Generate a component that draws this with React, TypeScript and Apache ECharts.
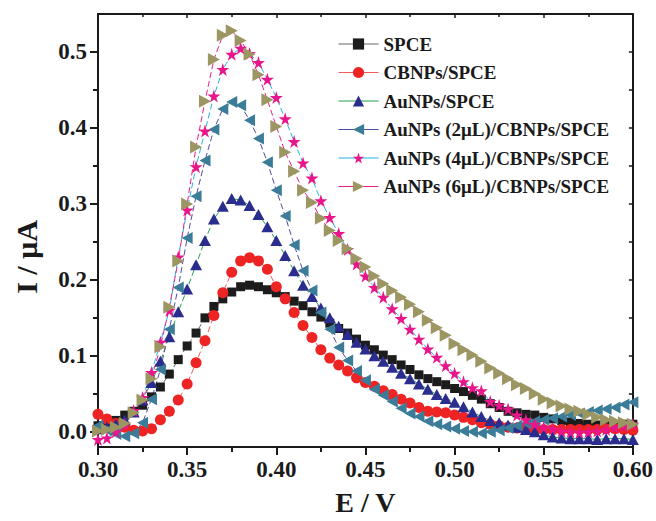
import React, { useEffect, useRef } from "react";
import * as echarts from "echarts";

const E = [
  0.300, 0.305, 0.310, 0.315, 0.320, 0.325, 0.330, 0.335, 0.340, 0.345,
  0.350, 0.355, 0.360, 0.365, 0.370, 0.375, 0.380, 0.385, 0.390, 0.395,
  0.400, 0.405, 0.410, 0.415, 0.420, 0.425, 0.430, 0.435, 0.440, 0.445,
  0.450, 0.455, 0.460, 0.465, 0.470, 0.475, 0.480, 0.485, 0.490, 0.495,
  0.500, 0.505, 0.510, 0.515, 0.520, 0.525, 0.530, 0.535, 0.540, 0.545,
  0.550, 0.555, 0.560, 0.565, 0.570, 0.575, 0.580, 0.585, 0.590, 0.595, 0.600,
];

const spce = [
  0.008, 0.010, 0.015, 0.022, 0.027, 0.035, 0.046, 0.059, 0.076, 0.095,
  0.113, 0.130, 0.150, 0.165, 0.175, 0.184, 0.191, 0.193, 0.191, 0.187,
  0.183, 0.178, 0.172, 0.166, 0.158, 0.151, 0.143, 0.136, 0.130, 0.122,
  0.114, 0.108, 0.101, 0.095, 0.088, 0.082, 0.075, 0.070, 0.066, 0.062,
  0.057, 0.053, 0.048, 0.043, 0.037, 0.032, 0.027, 0.025, 0.023, 0.022,
  0.019, 0.017, 0.015, 0.013, 0.011, 0.010, 0.009, 0.009, 0.009, 0.010, 0.010,
];

const cbnps = [
  0.023, 0.017, 0.011, 0.006, 0.002, 0.001, 0.004, 0.016, 0.027, 0.042,
  0.063, 0.091, 0.120, 0.153, 0.183, 0.210, 0.225, 0.229, 0.225, 0.214,
  0.191, 0.175, 0.157, 0.140, 0.124, 0.108, 0.097, 0.088, 0.080, 0.071,
  0.065, 0.060, 0.054, 0.049, 0.043, 0.038, 0.032, 0.027, 0.026, 0.025,
  0.022, 0.019, 0.016, 0.012, 0.010, 0.008, 0.006, 0.005, 0.004, 0.003,
  0.003, 0.003, 0.003, 0.003, 0.003, 0.003, 0.003, 0.004, 0.004, 0.003, 0.002,
];

const aunps = [
  0.004, 0.006, 0.010, 0.016, 0.026, 0.042, 0.065, 0.093, 0.125, 0.158,
  0.188, 0.220, 0.252, 0.280, 0.297, 0.307, 0.305, 0.298, 0.286, 0.270,
  0.252, 0.232, 0.212, 0.193, 0.178, 0.163, 0.150, 0.139, 0.128, 0.118,
  0.109, 0.100, 0.093, 0.085, 0.077, 0.070, 0.063, 0.056, 0.049, 0.044,
  0.039, 0.033, 0.026, 0.020, 0.015, 0.012, 0.009, 0.006, 0.003, 0.000,
  -0.004, -0.007, -0.008, -0.009, -0.009, -0.009, -0.010, -0.009, -0.009, -0.009, -0.010,
];

const au2 = [
  0.008, 0.002, -0.003, -0.006, -0.002, 0.012, 0.043, 0.082, 0.135, 0.190,
  0.255, 0.310, 0.357, 0.398, 0.425, 0.434, 0.430, 0.410, 0.386, 0.355,
  0.318, 0.284, 0.246, 0.212, 0.186, 0.157, 0.135, 0.111, 0.094, 0.080,
  0.068, 0.056, 0.048, 0.040, 0.031, 0.024, 0.020, 0.014, 0.010, 0.007,
  0.004, 0.001, 0.000, -0.002, 0.000, 0.002, 0.005, 0.008, 0.011, 0.014,
  0.016, 0.018, 0.020, 0.022, 0.024, 0.026, 0.028, 0.030, 0.032, 0.036, 0.039,
];

const au4 = [
  -0.010, -0.008, 0.000, 0.010, 0.028, 0.045, 0.078, 0.118, 0.160, 0.230,
  0.292, 0.349, 0.396, 0.442, 0.477, 0.497, 0.505, 0.498, 0.486, 0.464,
  0.440, 0.412, 0.382, 0.354, 0.334, 0.304, 0.282, 0.261, 0.240, 0.221,
  0.205, 0.190, 0.177, 0.162, 0.149, 0.135, 0.122, 0.109, 0.098, 0.087,
  0.077, 0.066, 0.058, 0.054, 0.040, 0.035, 0.030, 0.022, 0.016, 0.010,
  0.006, 0.004, 0.001, 0.000, -0.001, 0.000, 0.001, 0.003, 0.006, 0.008, 0.010,
];

const au6 = [
  0.001, 0.003, 0.006, 0.011, 0.025, 0.042, 0.070, 0.112, 0.164, 0.225,
  0.300, 0.375, 0.435, 0.490, 0.522, 0.528, 0.515, 0.497, 0.470, 0.437,
  0.402, 0.368, 0.343, 0.318, 0.302, 0.281, 0.265, 0.252, 0.241, 0.228,
  0.217, 0.205, 0.195, 0.186, 0.177, 0.168, 0.158, 0.147, 0.137, 0.127,
  0.116, 0.108, 0.101, 0.093, 0.084, 0.077, 0.070, 0.062, 0.057, 0.050,
  0.043, 0.038, 0.034, 0.030, 0.027, 0.023, 0.019, 0.016, 0.014, 0.012, 0.010,
];

const seriesNames = [
  "SPCE",
  "CBNPs/SPCE",
  "AuNPs/SPCE",
  "AuNPs (2μL)/CBNPs/SPCE",
  "AuNPs (4μL)/CBNPs/SPCE",
  "AuNPs (6μL)/CBNPs/SPCE",
];

const yMajor = [0, 0.1, 0.2, 0.3, 0.4, 0.5];
const yMinor = [0.05, 0.15, 0.25, 0.35, 0.45];
const yAll = [0, 0.05, 0.1, 0.15, 0.2, 0.25, 0.3, 0.35, 0.4, 0.45, 0.5];

const FONT = "'Liberation Serif', 'Times New Roman', serif";

const STAR = "path://M50,0 L61,35 L98,35 L68,57 L79,91 L50,70 L21,91 L32,57 L2,35 L39,35 Z";
const RIGHT_TRI = "path://M0,0 L10,5 L0,10 Z";
const LEFT_TRI = "path://M10,0 L0,5 L10,10 Z";

export default function App() {
  const ref = useRef<HTMLDivElement>(null);

  useEffect(() => {
    if (!ref.current) return;
    const chart = echarts.init(ref.current, undefined, { renderer: "svg" });

    const styles = [
      { data: spce, symbol: "rect", size: 9, color: "#1c1c1c", line: "#666666" },
      { data: cbnps, symbol: "circle", size: 11, color: "#ee2424", line: "#f25a5a" },
      { data: aunps, symbol: "triangle", size: [12, 11], color: "#2b2d8e", line: "#23a04e" },
      { data: au2, symbol: LEFT_TRI, size: [11, 12], color: "#3b7c98", line: "#4e4ea0" },
      { data: au4, symbol: STAR, size: 13, color: "#e8168a", line: "#22b2e8" },
      { data: au6, symbol: RIGHT_TRI, size: [12, 13], color: "#9c9663", line: "#e8208a" },
    ];

    const series = styles.map((s, i) => ({
      name: seriesNames[i],
      type: "line",
      xAxisIndex: 0,
      yAxisIndex: 0,
      data: E.map((x, k) => [x, s.data[k]]),
      symbol: s.symbol,
      symbolSize: s.size,
      showSymbol: true,
      showAllSymbol: true,
      itemStyle: { color: s.color, borderWidth: 0 },
      lineStyle: { color: s.line, width: 1, type: [6, 3] },
      emphasis: { disabled: true },
    }));

    const axisLine = { show: true, onZero: false, lineStyle: { color: "#1a1a1a", width: 2 } };
    const labelStyle = { fontFamily: FONT, fontWeight: "bold", fontSize: 23, color: "#1a1a1a" };

    chart.setOption({
      animation: false,
      backgroundColor: "#ffffff",
      grid: { left: 98, right: 21, top: 14, bottom: 70, containLabel: false },
      legend: {
        orient: "vertical",
        left: 333,
        top: 29,
        itemWidth: 40,
        itemHeight: 14,
        itemGap: 8.5,
        data: seriesNames,
        lineStyle: { type: "solid", width: 1 },
        textStyle: { fontFamily: FONT, fontWeight: "bold", fontSize: 19, color: "#1a1a1a", lineHeight: 20 },
        selectedMode: false,
      },
      xAxis: [
        {
          type: "value",
          position: "bottom",
          min: 0.3,
          max: 0.6,
          interval: 0.05,
          axisLine,
          axisTick: { show: true, inside: false, length: 8, lineStyle: { color: "#1a1a1a", width: 2 } },
          minorTick: { show: true, splitNumber: 2, length: 5, lineStyle: { color: "#1a1a1a", width: 2 } },
          splitLine: { show: false },
          axisLabel: { ...labelStyle, margin: 11, formatter: (v: number) => v.toFixed(2) },
          name: "E / V",
          nameLocation: "middle",
          nameGap: 41,
          nameTextStyle: { fontFamily: FONT, fontWeight: "bold", fontSize: 28, color: "#1a1a1a" },
        },
        {
          type: "value",
          position: "top",
          min: 0.3,
          max: 0.6,
          interval: 0.05,
          axisLine,
          axisTick: { show: true, inside: true, length: 4, lineStyle: { color: "#1a1a1a", width: 1.5 } },
          minorTick: { show: true, splitNumber: 2, length: 3, lineStyle: { color: "#1a1a1a", width: 1.5 } },
          splitLine: { show: false },
          axisLabel: { show: false },
        },
      ],
      yAxis: [
        {
          type: "value",
          position: "left",
          min: -0.02,
          max: 0.55,
          axisLine,
          axisTick: { show: true, inside: false, length: 8, customValues: yMajor, lineStyle: { color: "#1a1a1a", width: 2 } },
          splitLine: { show: false },
          axisLabel: { ...labelStyle, margin: 11, customValues: yMajor, formatter: (v: number) => v.toFixed(1) },
        },
        {
          type: "value",
          position: "left",
          min: -0.02,
          max: 0.55,
          axisLine: { show: false },
          axisTick: { show: true, inside: false, length: 5, customValues: yMinor, lineStyle: { color: "#1a1a1a", width: 2 } },
          splitLine: { show: false },
          axisLabel: { show: false },
        },
        {
          type: "value",
          position: "right",
          min: -0.02,
          max: 0.55,
          axisLine,
          axisTick: { show: true, inside: true, length: 4, customValues: yAll, lineStyle: { color: "#1a1a1a", width: 1.5 } },
          splitLine: { show: false },
          axisLabel: { show: false },
        },
      ],
      graphic: [
        {
          type: "text",
          x: 26,
          y: 257,
          rotation: Math.PI / 2,
          style: {
            text: "I / μA",
            fontFamily: FONT,
            fontWeight: "bold",
            fontSize: 30,
            fill: "#1a1a1a",
            align: "center",
            verticalAlign: "middle",
          },
        },
      ],
      series,
    });

    return () => chart.dispose();
  }, []);

  return (
    <div
      ref={ref}
      style={{ position: "absolute", left: 0, top: 0, width: 656, height: 521, background: "#fff" }}
    />
  );
}
